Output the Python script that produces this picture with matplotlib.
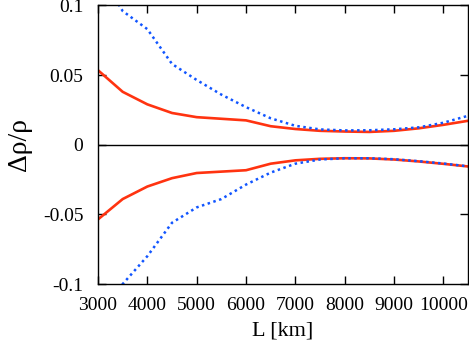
import matplotlib
matplotlib.use("Agg")
import matplotlib.pyplot as plt
from matplotlib.ticker import MultipleLocator

# baseline length [km]
L_RED = [3000, 3500, 4000, 4500, 5000, 6000, 6500, 7000, 7500, 8000,
         8500, 9000, 9500, 10000, 10500]
RED_UP = [0.0535, 0.038, 0.029, 0.0228, 0.0198, 0.0175, 0.0133, 0.0113, 0.0100,
          0.0095, 0.0092, 0.0100, 0.0118, 0.0143, 0.0172]
RED_LO = [-0.0536, -0.039, -0.030, -0.024, -0.0203, -0.0183, -0.0136, -0.0112,
          -0.0101, -0.0097, -0.0098, -0.0106, -0.0120, -0.0137, -0.0156]

L_BLUE = [3000, 3500, 4000, 4500, 5000, 5500, 6000, 6500, 7000, 7500, 8000,
          8500, 9000, 9500, 10000, 10500]
BLUE_UP = [0.125, 0.096, 0.083, 0.058, 0.0465, 0.036, 0.027, 0.019, 0.0136,
           0.0110, 0.0103, 0.0104, 0.0111, 0.0125, 0.0158, 0.0208]
BLUE_LO = [-0.125, -0.100, -0.080, -0.056, -0.045, -0.039, -0.0286, -0.020,
           -0.0136, -0.0106, -0.0097, -0.0097, -0.0104, -0.0118, -0.0135, -0.0155]

RED = "#ff3310"
BLUE = "#1155ff"

plt.rcParams["font.family"] = ["Liberation Serif", "DejaVu Serif"]

fig = plt.figure(figsize=(4.69, 3.43), dpi=100)
ax = fig.add_axes([0.209, 0.172, 0.789, 0.812])

ax.axhline(0, color="black", lw=1.0)
ax.plot(L_RED, RED_UP, color=RED, lw=1.9)
ax.plot(L_RED, RED_LO, color=RED, lw=1.9)
ax.plot(L_BLUE, BLUE_UP, color=BLUE, lw=1.8, linestyle=(0, (1, 1.4)))
ax.plot(L_BLUE, BLUE_LO, color=BLUE, lw=1.8, linestyle=(0, (1, 1.4)))

ax.set_xlim(3000, 10500)
ax.set_ylim(-0.1, 0.1)
ax.xaxis.set_major_locator(MultipleLocator(1000))
ax.set_yticks([-0.1, -0.05, 0, 0.05, 0.1])
ax.set_yticklabels(["-0.1", "-0.05", "0", "0.05", "0.1"])
ax.tick_params(direction="in", top=True, right=True, length=6, width=1,
               labelsize=14)
ax.tick_params(axis="x", pad=9.5)
ax.tick_params(axis="y", pad=10.5)
for s in ax.spines.values():
    s.set_linewidth(1.0)

ax.set_xlabel("L [km]", fontsize=16, labelpad=5)
ax.set_ylabel("Δρ/ρ", fontsize=20, labelpad=8)

fig.savefig("out.png", dpi=100)
